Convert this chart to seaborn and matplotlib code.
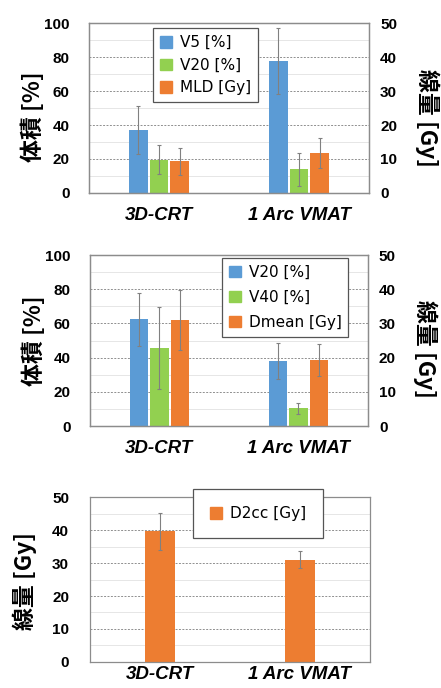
import matplotlib
matplotlib.use("Agg")
import matplotlib.pyplot as plt
import matplotlib.patches as mpatches
from matplotlib.ticker import MultipleLocator
import pandas as pd
import seaborn as sns

sns.set_style("white")
plt.rcParams['font.family'] = ['Liberation Sans', 'Noto Sans CJK JP', 'DejaVu Sans']
plt.rcParams['text.color'] = 'black'
plt.rcParams['xtick.color'] = 'black'
plt.rcParams['ytick.color'] = 'black'

categories = ["3D-CRT", "1 Arc VMAT"]

# 上段: 肺
p1_names = ["V5 [%]", "V20 [%]", "MLD [Gy]"]
p1_v5 = [37.3, 77.8]
p1_v5_err = [14.1, 19.5]
p1_v20 = [19.6, 13.9]
p1_v20_err = [8.5, 9.7]
p1_mld = [9.3, 11.8]
p1_mld_err = [3.9, 4.4]

# 中段: 心臓
p2_names = ["V20 [%]", "V40 [%]", "Dmean [Gy]"]
p2_v20 = [62.4, 37.8]
p2_v20_err = [15.4, 10.5]
p2_v40 = [45.4, 10.3]
p2_v40_err = [24.0, 3.1]
p2_dmean = [31.0, 19.3]
p2_dmean_err = [8.8, 4.6]

# 下段
p3_name = "D2cc [Gy]"
p3_d2cc = [39.6, 31.0]
p3_d2cc_err = [5.7, 2.55]

BLUE = "#5B9BD5"
GREEN = "#92D050"
ORANGE = "#ED7D31"
ERRC = "#808080"

fig = plt.figure(figsize=(4.41, 6.88), dpi=100)


def style_axis(ax, top, step, xpad=10):
    ax.set_ylim(0, top)
    ax.set_xlim(-0.5, len(categories) - 0.5)
    ax.yaxis.set_major_locator(MultipleLocator(step))
    ax.yaxis.set_minor_locator(MultipleLocator(step / 2))
    ax.grid(which='major', axis='y', color='#8f8f8f', linestyle=(0, (2, 1.5)), linewidth=0.7)
    ax.grid(which='minor', axis='y', color='#e6e6e6', linestyle='-', linewidth=0.7)
    ax.tick_params(axis='both', which='both', length=0, labelcolor='black')
    ax.tick_params(axis='y', labelsize=11, pad=14)
    ax.tick_params(axis='x', labelsize=13.5, pad=xpad)
    for lab in ax.get_yticklabels():
        lab.set_fontweight('bold')
    for lab in ax.get_xticklabels():
        lab.set_fontweight('bold')
        lab.set_fontstyle('italic')
    for s in ax.spines.values():
        s.set_color('#8c8c8c')
        s.set_linewidth(0.9)
    ax.set_xlabel("")
    ax.set_ylabel("")


def add_err(ax, errs_list):
    # 空のコンテナ(データのないhue)は飛ばす
    conts = [c for c in ax.containers if len(c) > 0]
    for cont, errs in zip(conts, errs_list):
        xs = [b.get_x() + b.get_width() / 2 for b in cont]
        hs = [b.get_height() for b in cont]
        ax.errorbar(xs, hs, yerr=errs, fmt='none', ecolor=ERRC,
                    elinewidth=0.8, capsize=1.5, capthick=0.8)


def twin_panel(rect, names, left_vals, left_errs, right_vals, right_errs,
               leg_pos, leg_space, left_lab_y, right_lab_y):
    ax = fig.add_axes(rect)
    palette = dict(zip(names, [BLUE, GREEN, ORANGE]))
    rows = []
    for nm, vals in zip(names[:2], left_vals):
        for c, v in zip(categories, vals):
            rows.append({"cat": c, "series": nm, "val": v})
    df_left = pd.DataFrame(rows)
    df_right = pd.DataFrame({"cat": categories, "series": names[2], "val": right_vals})

    sns.barplot(data=df_left, x="cat", y="val", hue="series", hue_order=names,
                order=categories, palette=palette, width=0.444, gap=0.1, dodge=True,
                saturation=1, errorbar=None, legend=False, linewidth=0, ax=ax)
    add_err(ax, left_errs)

    ax2 = ax.twinx()
    sns.barplot(data=df_right, x="cat", y="val", hue="series", hue_order=names,
                order=categories, palette=palette, width=0.444, gap=0.1, dodge=True,
                saturation=1, errorbar=None, legend=False, linewidth=0, ax=ax2)
    add_err(ax2, [right_errs])
    style_axis(ax, 100, 20)
    ax2.set_xlim(-0.5, len(categories) - 0.5)
    ax2.set_ylim(0, 50)
    ax2.yaxis.set_major_locator(MultipleLocator(10))
    ax2.tick_params(axis='y', length=0, labelsize=11, pad=8, labelcolor='black')
    for lab in ax2.get_yticklabels():
        lab.set_fontweight('bold')
    ax2.set_xlabel("")
    ax2.set_ylabel("")
    for s in ax2.spines.values():
        s.set_color('#8c8c8c')
        s.set_linewidth(0.9)

    ax.text(-0.2, left_lab_y, "体積 [%]", transform=ax.transAxes, rotation=90,
            ha='center', va='center', fontsize=16.5, fontweight='bold',
            family=['Noto Sans CJK JP', 'DejaVu Sans'])
    ax.text(1.207, right_lab_y, "線量 [Gy]", transform=ax.transAxes, rotation=270,
            ha='center', va='center', fontsize=16.5, fontweight='bold',
            family=['Noto Sans CJK JP', 'DejaVu Sans'])

    handles = [mpatches.Patch(color=palette[n], label=n) for n in names]
    leg = ax2.legend(handles=handles, loc='upper left', bbox_to_anchor=leg_pos,
                     bbox_transform=fig.transFigure, borderaxespad=0,
                     prop={'family': 'DejaVu Sans', 'size': 11},
                     handlelength=0.8, handleheight=0.8, handletextpad=0.5,
                     labelspacing=leg_space, borderpad=0.45, fancybox=False,
                     framealpha=1, edgecolor='#555555')
    leg.get_frame().set_linewidth(0.9)
    return ax


twin_panel([0.2018, 0.7195, 0.635, 0.247], p1_names,
           [p1_v5, p1_v20], [p1_v5_err, p1_v20_err], p1_mld, p1_mld_err,
           (0.347, 0.959), 0.5, 0.45, 0.44)

twin_panel([0.204, 0.3808, 0.630, 0.2485], p2_names,
           [p2_v20, p2_v40], [p2_v20_err, p2_v40_err], p2_dmean, p2_dmean_err,
           (0.503, 0.625), 0.65, 0.5, 0.45)

# 下段パネル
ax3 = fig.add_axes([0.204, 0.0378, 0.635, 0.2398])
sns.barplot(x=categories, y=p3_d2cc, color=ORANGE, width=0.21, saturation=1,
            errorbar=None, linewidth=0, ax=ax3)
add_err(ax3, [p3_d2cc_err])
style_axis(ax3, 50, 10, xpad=3)
ax3.tick_params(axis='y', pad=15)
ax3.text(-0.232, 0.49, "線量 [Gy]", transform=ax3.transAxes, rotation=90,
         ha='center', va='center', fontsize=16.5, fontweight='bold',
         family=['Noto Sans CJK JP', 'DejaVu Sans'])
leg3 = ax3.legend(handles=[mpatches.Patch(color=ORANGE, label=p3_name)],
                  loc='upper left', bbox_to_anchor=(0.438, 0.289),
                  bbox_transform=fig.transFigure, borderaxespad=0,
                  prop={'family': 'DejaVu Sans', 'size': 11},
                  handlelength=0.8, handleheight=0.8, handletextpad=0.5,
                  borderpad=1.1, fancybox=False, framealpha=1, edgecolor='#555555')
leg3.get_frame().set_linewidth(0.9)

fig.savefig("out.png", dpi=100)
